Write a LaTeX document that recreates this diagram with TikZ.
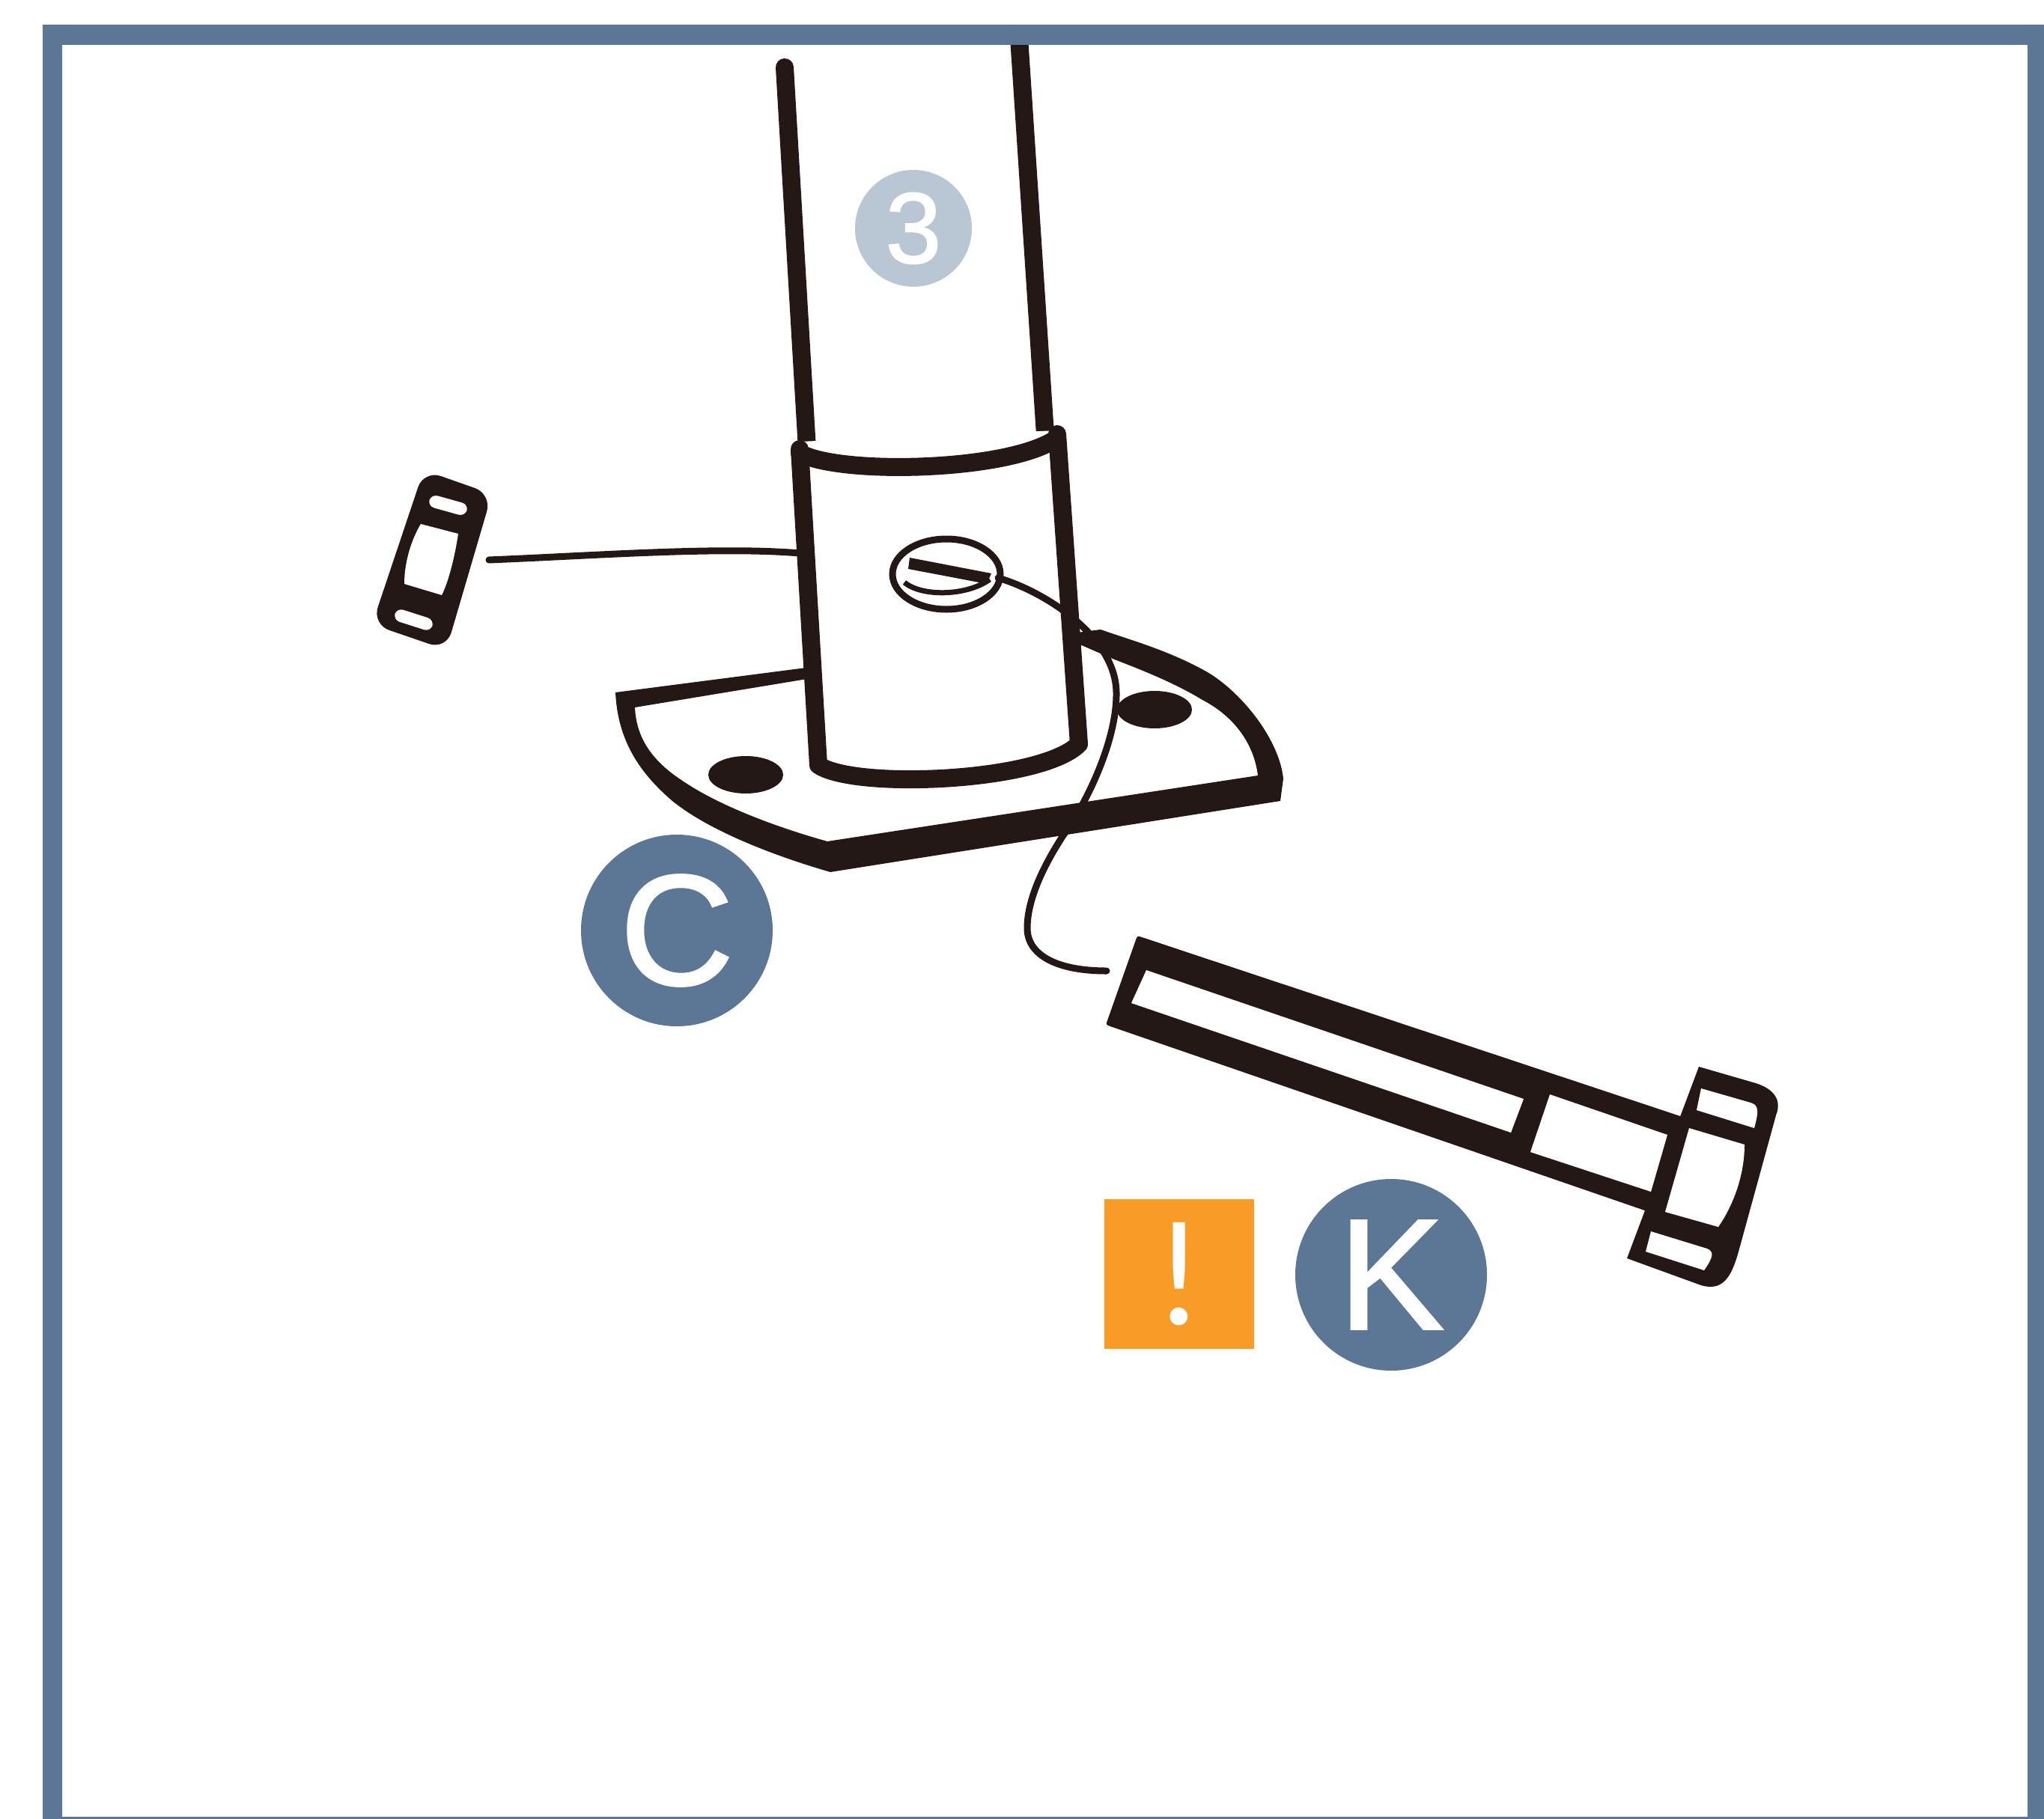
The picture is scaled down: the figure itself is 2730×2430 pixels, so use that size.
\documentclass[tikz,border=0pt]{standalone}
\usepackage{fontspec}
\setmainfont{Liberation Sans}
\newfontfamily\semifont[FakeBold=1.5]{Liberation Sans}
\newfontfamily\latofont{Lato}
\definecolor{ink}{HTML}{231815}
\definecolor{frameblue}{HTML}{5C7696}
\definecolor{paleblue}{HTML}{B9C7D4}
\definecolor{warn}{HTML}{F99B27}
\tikzset{
  x=1pt,y=-1pt,
  thick line/.style={draw=ink,line width=24pt,line cap=round,line join=round},
  wire/.style={draw=ink,line width=9pt,line cap=round,line join=round},
  window/.style={fill=white,draw=none},
  badge/.style={circle,fill=frameblue,text=white,minimum size=256pt,inner sep=0pt,font=\semifont\fontsize{210}{210}\selectfont},
  smallbadge/.style={circle,fill=paleblue,text=white,minimum size=156pt,inner sep=0pt,font=\semifont\fontsize{134}{134}\selectfont},
  warnbox/.style={rectangle,fill=warn,text=white,minimum size=200pt,inner sep=0pt,font=\latofont\fontsize{190}{190}\selectfont}
}
\begin{document}
\begin{tikzpicture}
\useasboundingbox (0,0) rectangle (2730,2430);
\fill[white] (0,0) rectangle (2730,2430);
% pole
\draw[thick line] (1048,90) -- (1078,600);
\draw[thick line] (1361,50) -- (1396,580);
% base plate
\fill[ink,even odd rule]
  (822,925) -- (1470,841)
  .. controls (1510,855) and (1561,869) .. (1611,897)
  .. controls (1655,922) and (1708,985) .. (1714,1040) -- (1710,1070) -- (1109,1165)
  .. controls (1040,1145) and (950,1112) .. (898,1070)
  .. controls (855,1033) and (825,990) .. (822,925) -- cycle
  (848,945) .. controls (850,990) and (875,1020) .. (916,1046)
  .. controls (960,1075) and (1030,1103) .. (1105,1124) -- (1680,1036)
  .. controls (1675,995) and (1650,958) .. (1606,935)
  .. controls (1568,912) and (1525,895) .. (1486,880) -- (1440,860) -- (1090,905) -- cycle;
% plate holes
\fill[ink] (996,1035) ellipse [x radius=50,y radius=25];
\fill[ink] (1542,948) ellipse [x radius=50,y radius=25];
% collar body
\fill[white] (1068,590) -- (1412,575) -- (1441,994) .. controls (1400,1040) and (1150,1070) .. (1093,1024) -- cycle;
\draw[thick line] (1068,600) -- (1093,1022) .. controls (1140,1055) and (1390,1045) .. (1441,994) -- (1412,580);
\draw[thick line] (1068,605) .. controls (1120,635) and (1350,630) .. (1412,585);
% left nut
\fill[ink,rounded corners=24pt] (566,628) -- (657,660) -- (596,868) -- (497,834) -- cycle;
\fill[window,rounded corners=9pt] (576,660) -- (626,674) -- (621,690) -- (571,676) -- cycle;
\fill[window,rounded corners=9pt] (530,812) -- (580,828) -- (575,844) -- (525,828) -- cycle;
\fill[window] (562,700) -- (612,713) .. controls (608,740) and (600,775) .. (590,795) -- (540,780) .. controls (540,750) and (550,720) .. (562,700) -- cycle;
% screw
\draw[draw=ink,line width=9pt,fill=white] (1264,767) ellipse [x radius=72,y radius=47];
\fill[ink] (1215,745) -- (1324,766) -- (1318,780) -- (1213,760) -- cycle;
\draw[draw=ink,line width=7pt] (1208,778) .. controls (1230,797) and (1290,797) .. (1322,774);
% wires
\coordinate (nutend) at (653,748);
\coordinate (tubeleft) at (1068,739);
\coordinate (screwedge) at (1333,772);
\coordinate (boltend) at (1478,1297);
\draw[wire] (nutend) .. controls (800,742) and (960,730) .. (tubeleft);
\draw[wire] (screwedge) .. controls (1395,790) and (1490,850) .. (1491,925)
  .. controls (1492,990) and (1450,1075) .. (1420,1116)
  .. controls (1385,1170) and (1372,1210) .. (1372,1240)
  .. controls (1372,1275) and (1410,1297) .. (boltend);
% bolt
\fill[ink,rounded corners=3pt] (1519,1250) -- (2262,1497) -- (2214,1623) -- (1477,1369) -- cycle;
\fill[window] (1531,1296) -- (2035,1468) -- (2018,1513) -- (1511,1340) -- cycle;
\fill[window] (2070,1462) -- (2227,1516) -- (2205,1592) -- (2044,1539) -- cycle;
\fill[ink,line join=round] (2269,1425) -- (2345,1447) .. controls (2370,1455) and (2380,1470) .. (2372,1490)
  -- (2322,1672) .. controls (2312,1708) and (2300,1725) .. (2272,1717) -- (2173,1681) -- cycle;
\fill[window] (2272,1454) -- (2338,1473) .. controls (2348,1476) and (2350,1482) .. (2343,1507) -- (2266,1483) -- cycle;
\fill[window] (2256,1507) -- (2330,1529) .. controls (2330,1570) and (2315,1610) .. (2295,1639) -- (2224,1619) -- cycle;
\fill[window] (2205,1645) -- (2280,1668) .. controls (2290,1672) and (2288,1680) .. (2276,1697) -- (2198,1672) -- cycle;
% frame
\fill[frameblue,even odd rule] (57,33) rectangle (2730,2430) (83,60) rectangle (2708,2427);
% badges
\node[smallbadge] (three) at (1220,305) {3};
\node[badge] (c) at (904,1243) {C};
\node[badge] (k) at (1858,1703) {K};
\node[warnbox] (warning) at (1575,1702) {!};
\end{tikzpicture}
\end{document}
